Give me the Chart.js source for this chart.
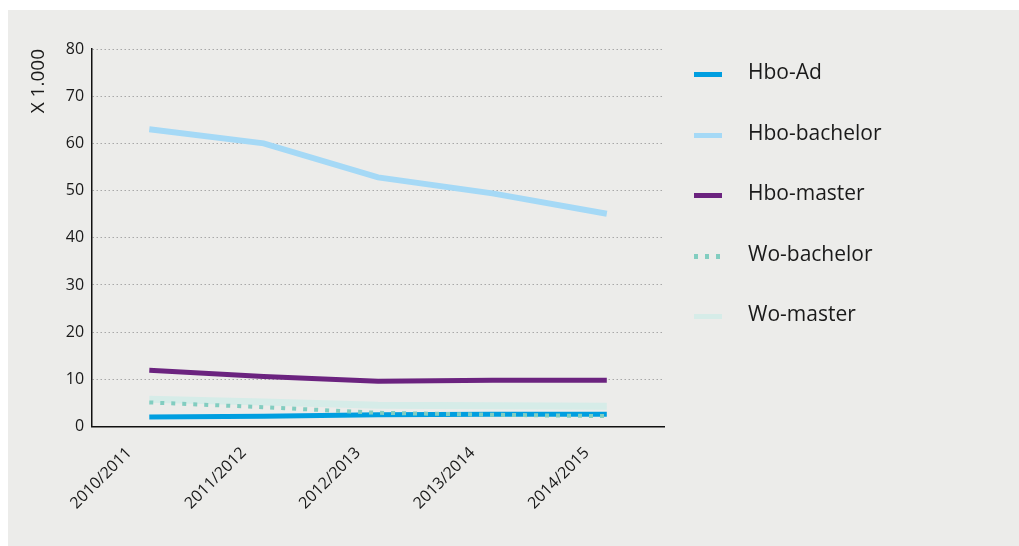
<!DOCTYPE html>
<html>
<head>
<meta charset="utf-8">
<script src="https://cdn.jsdelivr.net/npm/chart.js@4/dist/chart.umd.min.js"></script>
<style>
  html, body { margin: 0; padding: 0; background: #fff; width: 1019px; height: 546px; overflow: hidden; }
  #panel { position: absolute; left: 8px; top: 10px; width: 1011px; height: 536px; background: #ececea; }
  #wrap { position: absolute; left: 0; top: 0; width: 1019px; height: 546px; }
  #legend { position: absolute; left: 694px; top: 57px; font-family: "Open Sans", sans-serif; font-size: 21px; color: #1a1a1a; }
  .item { height: 60.5px; display: flex; align-items: flex-start; }
  .swatch { width: 28px; height: 5px; margin-top: 15px; margin-right: 26px; }
</style>
</head>
<body>
<div id="panel"></div>
<div id="wrap"><canvas id="chart" width="1019" height="546"></canvas></div>
<div id="legend"></div>
<script>
const categories = ["2010/2011", "2011/2012", "2012/2013", "2013/2014", "2014/2015"];
const yTicks = [0, 10, 20, 30, 40, 50, 60, 70, 80];

const hboAd = [2.0, 2.2, 2.5, 2.6, 2.6];
const hboBachelor = [63.0, 60.0, 52.8, 49.4, 45.1];
const hboMaster = [11.9, 10.6, 9.6, 9.8, 9.8];
const woBachelor = [5.1, 4.1, 2.9, 2.5, 2.2];
const woMaster = [5.8, 5.2, 4.5, 4.4, 4.3];

const series = [
  { label: "Hbo-Ad", data: hboAd, color: "#009ee0", width: 5, order: 2 },
  { label: "Hbo-bachelor", data: hboBachelor, color: "#a5d9f6", width: 6, order: 4 },
  { label: "Hbo-master", data: hboMaster, color: "#6b237f", width: 5, order: 3 },
  { label: "Wo-bachelor", data: woBachelor, color: "#82cdc0", width: 4, dash: [4, 7], order: 1 },
  { label: "Wo-master", data: woMaster, color: "#d6ece8", width: 7, order: 5 }
];

const font = "'Open Sans', sans-serif";

// html legend
document.getElementById("legend").innerHTML = series.map(s => {
  const bg = s.dash
    ? `background: repeating-linear-gradient(90deg, ${s.color} 0 4px, transparent 4px 11px);`
    : `background: ${s.color};`;
  return `<div class="item"><div class="swatch" style="${bg}"></div><div>${s.label}</div></div>`;
}).join("");

new Chart(document.getElementById("chart"), {
  type: "line",
  data: {
    labels: categories,
    datasets: series.map(s => ({
      label: s.label,
      data: s.data,
      borderColor: s.color,
      backgroundColor: s.color,
      borderWidth: s.width,
      borderDash: s.dash || [],
      pointRadius: 0,
      tension: 0,
      order: s.order
    }))
  },
  options: {
    responsive: false,
    animation: false,
    layout: { padding: { left: 23, right: 355, top: 49, bottom: 16 } },
    plugins: { legend: { display: false }, tooltip: { enabled: false } },
    scales: {
      x: {
        offset: true,
        grid: { display: false, drawTicks: false },
        border: { color: "#111", width: 1.5 },
        ticks: {
          color: "#1a1a1a",
          font: { family: font, size: 16 },
          maxRotation: 45, minRotation: 45,
          padding: 17,
          labelOffset: -20
        }
      },
      y: {
        min: 0, max: 80,
        afterBuildTicks: axis => { axis.ticks = yTicks.map(v => ({ value: v })); },
        grid: { color: "#a8a8a8", lineWidth: 1, drawTicks: false },
        border: { color: "#111", width: 1.5, dash: [1.5, 2.5] },
        ticks: { color: "#1a1a1a", font: { family: font, size: 16 }, padding: 8 },
        title: {
          display: true, text: "X 1.000", align: "end",
          color: "#1a1a1a", font: { family: font, size: 19 }, padding: { bottom: 8 }
        }
      }
    }
  }
});
</script>
</body>
</html>
